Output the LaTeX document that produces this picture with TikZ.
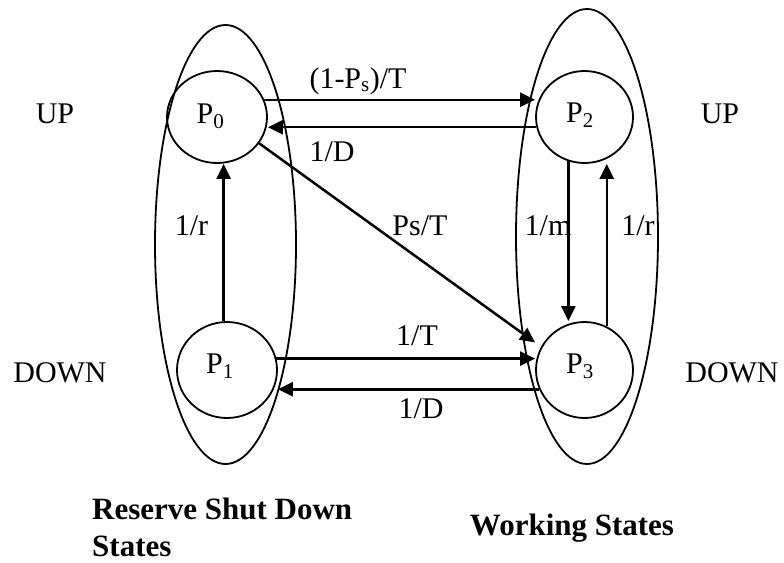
\documentclass[tikz,border=0pt]{standalone}
\usepackage{fontspec}
\setmainfont{Liberation Serif}
\usetikzlibrary{arrows.meta,shapes.geometric}
\begin{document}
\begin{tikzpicture}[x=1pt,y=-1pt,
  setbox/.style={ellipse, draw, line width=1.8pt, inner sep=0pt},
  stnode/.style={ellipse, draw, line width=1.8pt, inner sep=0pt},
  flow/.style={line width=2.5pt, -{Triangle[length=15pt,width=14pt]}},
  txt/.style={font=\fontsize{30}{36}\selectfont, inner sep=0pt, anchor=base},
  ttl/.style={font=\fontsize{31}{37}\selectfont\bfseries, inner sep=0pt, align=left}]
\useasboundingbox (0,0) rectangle (784,562);

% state groups
\node[setbox, minimum width=141pt, minimum height=439pt] (reserve) at (225.5,244.5) {};
\node[setbox, minimum width=142pt, minimum height=455pt] (working) at (587,236.5) {};

% states
\node[stnode, minimum width=100pt, minimum height=92pt] (P0) at (217,117) {};
\node[stnode, minimum width=100pt, minimum height=96pt] (P1) at (227,370) {};
\node[stnode, minimum width=97pt, minimum height=92pt] (P2) at (584.5,117) {};
\node[stnode, minimum width=97pt, minimum height=96pt] (P3) at (584.5,370) {};

\node[txt] (p0t) at (210.5,123) {P\textsubscript{0}};
\node[txt] (p1t) at (220,373) {P\textsubscript{1}};
\node[txt] (p2t) at (580,122) {P\textsubscript{2}};
\node[txt] (p3t) at (580,373) {P\textsubscript{3}};

% transitions
\draw[flow] (P0.20) -- (P0.20 -| P2.west);
\draw[flow] (P2.192) -- (P2.192 -| P0.east);
\draw[flow] (P0.-32) -- (P3.west |- P3.146);
\draw[flow] (P1.13) -- (P1.13 -| P3.west);
\draw[flow] (P3.203) -- (P3.203 -| P1.east);
\draw[flow] (P1.94) -- (P1.94 |- P0.south);
\draw[flow] (P2.250) -- (P2.250 |- P3.north);
\draw[flow] (P3.63) -- (P3.63 |- P2.south);

% rates
\node[txt] (r02) at (358,88) {(1-P\textsubscript{s})/T};
\node[txt] (r20) at (332,161) {1/D};
\node[txt] (r03) at (420,235) {Ps/T};
\node[txt] (r10) at (191.5,235) {1/r};
\node[txt] (r23) at (548,235) {1/m};
\node[txt] (r32) at (638,235) {1/r};
\node[txt] (r13) at (417,345) {1/T};
\node[txt] (r31) at (421,418) {1/D};

% levels
\node[txt] (upl) at (55,123) {UP};
\node[txt] (upr) at (720,123) {UP};
\node[txt] (dnl) at (60,382) {DOWN};
\node[txt] (dnr) at (732,382) {DOWN};

% group titles
\node[ttl, anchor=west] (rtitle) at (92,527.5) {Reserve Shut Down\\[0pt]States};
\node[ttl, anchor=base] (wtitle) at (572,535) {Working States};
\end{tikzpicture}
\end{document}
